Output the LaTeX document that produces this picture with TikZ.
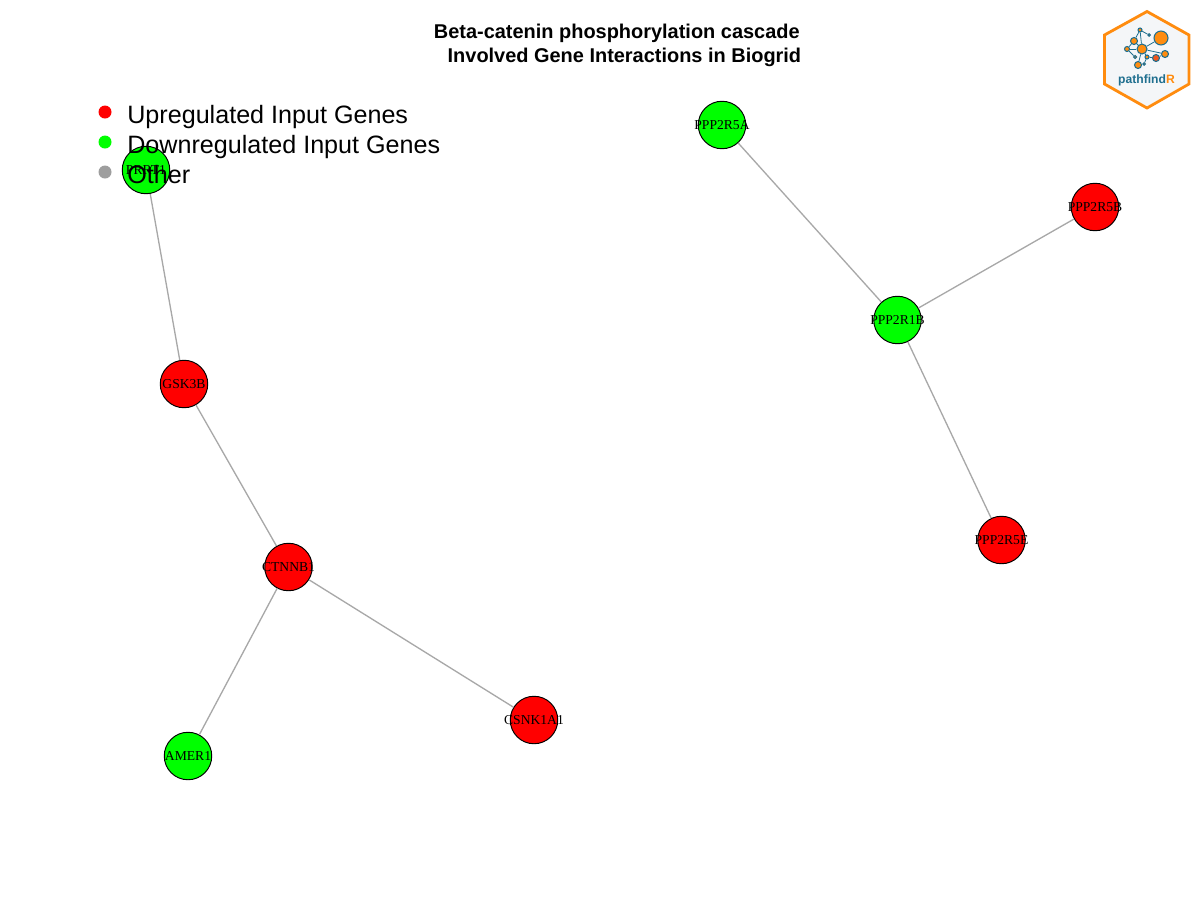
\documentclass[tikz,border=0pt]{standalone}
\usepackage{fontspec}
\setmainfont{Liberation Serif}
\newfontfamily\arialfont{Liberation Sans}
\definecolor{logoOrange}{HTML}{FF8C0F}
\definecolor{logoBlue}{HTML}{1F6F8F}
\definecolor{logoFill}{HTML}{F4F6F8}
\definecolor{logoRed}{HTML}{F0561E}
\definecolor{edgeGray}{HTML}{A8A8A8}
\definecolor{otherGray}{HTML}{9E9E9E}
\newcommand{\genetext}[1]{\makebox[0pt]{#1}}
\tikzset{
  gene/.style={circle,draw=black,line width=.55pt,minimum size=47.5*.02cm,inner sep=0pt,font=\fontsize{7.75}{9}\selectfont},
  upgene/.style={gene,fill=red},
  downgene/.style={gene,fill=green},
  edge/.style={draw=edgeGray,line width=.75pt},
  legdot/.style={circle,inner sep=0pt,minimum size=13*.02cm},
  legtext/.style={anchor=base west,inner sep=0pt,font=\arialfont\fontsize{14.3}{16}\selectfont},
  titletext/.style={anchor=base east,inner sep=0pt,font=\arialfont\bfseries\fontsize{11.35}{13}\selectfont},
  logodot/.style={circle,draw=logoBlue,line width=.6pt,fill=logoOrange,inner sep=0pt},
  logoedge/.style={draw=logoBlue,line width=.45pt}
}
\begin{document}
\begin{tikzpicture}[x=.02cm,y=-.02cm]
  \useasboundingbox (0,0) rectangle (1200,900);
  \fill[white] (0,0) rectangle (1200,900);
  % genes
  \node[downgene] (PRRT) at (146,170) {\genetext{PRRT1}};
  \node[upgene] (GSK) at (184,384) {\genetext{GSK3B}};
  \node[upgene] (CTNNB) at (288.5,567) {\genetext{CTNNB1}};
  \node[downgene] (AMER) at (188,756) {\genetext{AMER1}};
  \node[upgene] (CSNK) at (534,720) {\genetext{CSNK1A1}};
  \node[downgene] (R5A) at (722,125) {\genetext{PPP2R5A}};
  \node[upgene] (R5B) at (1095,207) {\genetext{PPP2R5B}};
  \node[downgene] (R1B) at (897.5,320) {\genetext{PPP2R1B}};
  \node[upgene] (R5E) at (1001.5,540) {\genetext{PPP2R5E}};
  % interactions
  \draw[edge] (PRRT) -- (GSK);
  \draw[edge] (GSK) -- (CTNNB);
  \draw[edge] (CTNNB) -- (AMER);
  \draw[edge] (CTNNB) -- (CSNK);
  \draw[edge] (R5A) -- (R1B);
  \draw[edge] (R5B) -- (R1B);
  \draw[edge] (R1B) -- (R5E);
  % title
  \node[titletext] (title1) at (800,38) {Beta-catenin phosphorylation cascade};
  \node[titletext] (title2) at (801.5,62) {Involved Gene Interactions in Biogrid};
  % legend
  \node[legdot,fill=red] (dotup) at (105,112) {};
  \node[legdot,fill=green] (dotdown) at (105,142) {};
  \node[legdot,fill=otherGray] (dotother) at (105,172) {};
  \node[legtext] (textup) at (127,123.5) {Upregulated Input Genes};
  \node[legtext] (textdown) at (127,153.5) {Downregulated Input Genes};
  \node[legtext] (textother) at (127,183.5) {Other};
  % logo
  \draw[logoOrange,line width=1.6pt,fill=logoFill,line join=miter]
    (1147,11.5) -- (1189,35) -- (1189,84) -- (1147,108) -- (1104.5,84) -- (1104.5,35) -- cycle;
  \node[logodot,minimum size=14*.02cm] (l1) at (1161,38) {};
  \node[logodot,minimum size=10*.02cm] (l2) at (1142,49) {};
  \node[logodot,minimum size=7*.02cm] (l3) at (1134,41) {};
  \node[logodot,minimum size=4*.02cm] (l4) at (1140,30) {};
  \node[logodot,minimum size=2.5*.02cm] (l5) at (1149,35) {};
  \node[logodot,minimum size=5*.02cm] (l6) at (1127,49) {};
  \node[logodot,minimum size=3*.02cm] (l7) at (1135,57) {};
  \node[logodot,minimum size=7*.02cm] (l8) at (1138,65) {};
  \node[logodot,minimum size=4*.02cm] (l9) at (1147,57) {};
  \node[logodot,minimum size=2.5*.02cm] (l10) at (1144,64) {};
  \node[logodot,fill=logoRed,minimum size=7*.02cm] (l11) at (1156,58) {};
  \node[logodot,minimum size=7*.02cm] (l12) at (1165,54) {};
  \foreach \a/\b in {l2/l1,l2/l3,l2/l4,l3/l4,l4/l5,l2/l6,l3/l6,l6/l7,l2/l8,l2/l9,l9/l10,l9/l11,l2/l12,l11/l12}
    \draw[logoedge] (\a) -- (\b);
  \node[inner sep=0pt,font=\fontsize{6.9}{9}\selectfont\arialfont\bfseries] (logoname) at (1146.5,80) {\textcolor{logoBlue}{pathfind}\textcolor{logoOrange}{R}};
\end{tikzpicture}
\end{document}
